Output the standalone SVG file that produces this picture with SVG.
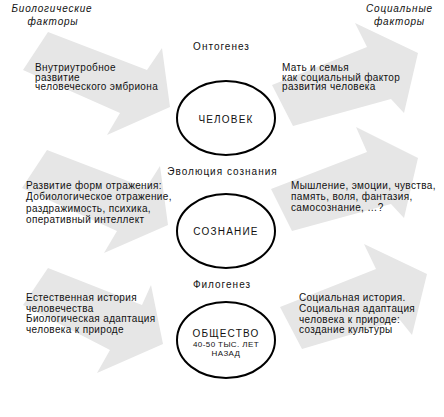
<svg xmlns="http://www.w3.org/2000/svg" width="444" height="417" viewBox="0 0 444 417">
<style>
.arr{fill:#e6e6e6;stroke:none}
.ell{fill:#fff;stroke:#000;stroke-width:2}
text{font-family:"Liberation Sans",Arial,sans-serif;fill:#111}
.b{font-size:10px;letter-spacing:0.35px}
.lbl{font-size:10px;letter-spacing:1px;text-anchor:middle}
.fac{font-size:10px;font-style:italic;letter-spacing:0.8px;text-anchor:middle}
.cap{font-size:10px;letter-spacing:1.2px;text-anchor:middle}
.sm{font-size:8px;letter-spacing:0.4px;text-anchor:middle}
</style>
<rect width="444" height="417" fill="#fff"/>
<g id="connectors">
<polygon class="arr" points="48,32 147,70 162,48 170,107 107,135 120,113 23,70"/>
<polygon class="arr" points="47,150 146,188 160,166 168,225 104,253 117,231 22,188"/>
<polygon class="arr" points="48,268 142,305 151,285 163,344 97,373 110,350 23,305"/>
<polygon class="arr" points="272,85 367,47 355,23 418,53 404,113 391,99 293,126"/>
<polygon class="arr" points="271,189 367,152 356,127 418,158 404,218 391,204 292,231"/>
<polygon class="arr" points="280,307 376,269 364,244 427,274 412,335 400,320 302,349"/>
</g>
<g id="factors-bio">
<text class="fac" x="52" y="11.5">Биологические</text>
<text class="fac" x="53" y="24.5">факторы</text>
</g>
<g id="factors-soc">
<text class="fac" x="399.5" y="11.5">Социальные</text>
<text class="fac" x="399.5" y="24.5">факторы</text>
</g>
<g id="label-ontogenez"><text class="lbl" x="221.5" y="50">Онтогенез</text></g>
<g id="label-evolution"><text class="lbl" x="222.5" y="175">Эволюция сознания</text></g>
<g id="label-filogenez"><text class="lbl" x="222" y="288">Филогенез</text></g>
<g id="node-chelovek">
<ellipse class="ell" cx="226" cy="118" rx="49" ry="37"/>
<text class="cap" x="226" y="123">ЧЕЛОВЕК</text>
</g>
<g id="node-soznanie">
<ellipse class="ell" cx="226" cy="231" rx="49" ry="37"/>
<text class="cap" x="226" y="235">СОЗНАНИЕ</text>
</g>
<g id="node-obshchestvo">
<ellipse class="ell" cx="226" cy="340" rx="49" ry="38"/>
<text class="cap" x="226" y="337">ОБЩЕСТВО</text>
<text class="sm" x="226" y="347">40-50 ТЫС. ЛЕТ</text>
<text class="sm" x="226" y="356">НАЗАД</text>
</g>
<g id="text-bio-1">
<text class="b" x="35" y="71">Внутриутробное</text>
<text class="b" x="35" y="80.5">развитие</text>
<text class="b" x="35" y="90">человеческого эмбриона</text>
</g>
<g id="text-soc-1">
<text class="b" x="282" y="71">Мать и семья</text>
<text class="b" x="282" y="80.5">как социальный фактор</text>
<text class="b" x="282" y="90">развития человека</text>
</g>
<g id="text-bio-2">
<text class="b" x="26" y="188.5">Развитие форм отражения:</text>
<text class="b" x="26" y="200">Добиологическое отражение,</text>
<text class="b" x="26" y="211.5">раздражимость, психика,</text>
<text class="b" x="26" y="222.5">оперативный интеллект</text>
</g>
<g id="text-soc-2">
<text class="b" x="291" y="188.5">Мышление, эмоции, чувства,</text>
<text class="b" x="291" y="200">память, воля, фантазия,</text>
<text class="b" x="291" y="211">самосознание, …?</text>
</g>
<g id="text-bio-3">
<text class="b" x="26" y="301">Естественная история</text>
<text class="b" x="26" y="311.5">человечества</text>
<text class="b" x="26" y="322">Биологическая адаптация</text>
<text class="b" x="26" y="332.5">человека к природе</text>
</g>
<g id="text-soc-3">
<text class="b" x="299" y="301">Социальная история.</text>
<text class="b" x="299" y="311.5">Социальная адаптация</text>
<text class="b" x="299" y="322.5">человека к природе:</text>
<text class="b" x="299" y="333">создание культуры</text>
</g>
</svg>
